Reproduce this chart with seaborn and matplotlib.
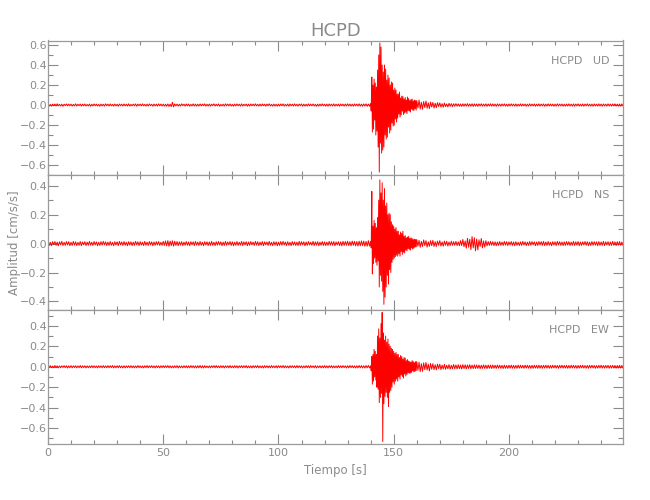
import numpy as np
import matplotlib
matplotlib.use("Agg")
import matplotlib.pyplot as plt
from matplotlib import font_manager
from matplotlib.ticker import MultipleLocator
import seaborn as sns

station = "HCPD"
components = ["UD", "NS", "EW"]

# amplitudes in thousandths of cm/s/s
# pre: 0-139.5 s every 0.5 s | burst1: 140-151.75 s every 0.25 s | burst2: 152-159.75 s every 0.25 s
# coda: 160-175.5 s every 0.5 s | tail: 176-249.5 s every 0.5 s
ud_pre = [8, -10, 6, -11, 9, -7, 10, -9, 12, -8, 7, -10, 9, -12, 8, -6, 11, -9, 10, -8,
          9, -11, 7, -9, 12, -10, 8, -7, 10, -11, 9, -8, 11, -10, 6, -9, 10, -12, 8, -9,
          11, -8, 9, -10, 7, -12, 10, -9, 8, -11, 12, -7, 9, -10, 11, -8, 7, -11, 10, -9,
          8, -12, 10, -7, 9, -10, 11, -9, 8, -10, 12, -11, 7, -9, 10, -8, 11, -12, 9, -7,
          10, -9, 12, -8, 7, -11, 9, -10, 11, -7, 8, -12, 10, -9, 9, -11, 12, -8, 10, -10,
          9, -11, 8, -12, 11, -14, 10, -16, 28, -18, 12, -9, 10, -11, 8, -10, 12, -7, 9, -11,
          11, -8, 10, -12, 7, -9, 12, -10, 9, -11, 8, -10, 11, -9, 10, -7, 12, -11, 8, -10,
          10, -11, 9, -7, 12, -10, 8, -9, 11, -12, 7, -10, 9, -11, 12, -8, 10, -9, 11, -10,
          7, -12, 10, -9, 11, -8, 9, -11, 12, -10, 8, -7, 10, -12, 9, -11, 11, -8, 10, -9,
          12, -9, 8, -11, 10, -10, 11, -7, 9, -12, 10, -8, 12, -9, 7, -11, 10, -10, 8, -12,
          9, -10, 11, -8, 12, -11, 7, -9, 10, -12, 11, -8, 9, -10, 12, -9, 8, -11, 10, -7,
          11, -12, 9, -10, 8, -11, 12, -9, 10, -8, 11, -10, 7, -12, 9, -11, 10, -9, 12, -8,
          8, -11, 10, -12, 11, -9, 9, -10, 12, -11, 8, -9, 10, -12, 11, -8, 9, -11, 10, -10,
          12, -9, 10, -11, 9, -12, 11, -8, 10, -10, 12, -11, 9, -12, 11, -10, 12, -13, 10, -12]
ud_burst1 = [15, -60, 280, -270, 200, -240, 260, -150, 220, -300, 180, -260,
             350, -420, 500, -670, 620, -380, 580, -480, 400, -450, 330, -420,
             400, -300, 360, -340, 250, -320, 300, -220, 270, -280, 200, -250,
             230, -180, 220, -210, 150, -200, 170, -140, 150, -170, 110, -130]
ud_burst2 = [110, -90, 130, -120, 70, -100, 90, -60, 85, -95, 60, -80, 75, -70, 50, -85,
             80, -55, 65, -60, 45, -70, 55, -40, 60, -50, 40, -55, 50, -35, 45, -50]
ud_coda = [45, -30, 50, -40, 28, -42, 35, -25, 40, -32, 22, -35, 30, -20, 26, -30,
           18, -26, 24, -15, 22, -20, 14, -22, 20, -16, 12, -19, 17, -13, 14, -16]
ud_tail = [13, -12, 14, -11, 12, -13, 11, -14, 13, -12, 12, -11, 14, -13, 11, -12, 13, -14, 12, -11,
           11, -13, 12, -10, 13, -12, 10, -11, 12, -13, 11, -10, 13, -12, 12, -11, 10, -13, 12, -10,
           10, -12, 11, -9, 12, -11, 9, -12, 11, -10, 12, -9, 10, -11, 11, -12, 9, -10, 12, -11,
           11, -9, 10, -12, 9, -11, 12, -10, 10, -9, 11, -12, 9, -10, 12, -11, 10, -9, 11, -12,
           9, -11, 12, -10, 11, -9, 10, -12, 9, -11, 12, -10, 10, -9, 11, -12, 9, -11, 10, -10,
           12, -10, 9, -11, 11, -12, 10, -9, 12, -11, 9, -10, 11, -12, 10, -9, 12, -10, 9, -11,
           10, -12, 11, -9, 9, -11, 12, -10, 10, -12, 11, -9, 9, -11, 12, -10, 10, -11, 11, -9,
           12, -10, 9, -11, 10, -12, 11, -9]

ns_pre = [12, -14, 9, -15, 13, -8, 14, -12, 10, -15, 12, -9, 15, -13, 8, -12, 14, -10, 13, -15,
          9, -13, 15, -11, 12, -14, 8, -12, 14, -15, 11, -9, 13, -14, 10, -12, 15, -11, 9, -13,
          14, -10, 12, -15, 9, -13, 13, -11, 15, -9, 12, -14, 10, -13, 14, -12, 8, -15, 13, -10,
          12, -14, 15, -9, 11, -13, 14, -12, 9, -15, 13, -11, 12, -14, 10, -13, 15, -9, 12, -14,
          13, -11, 9, -14, 15, -12, 10, -13, 14, -9, 12, -15, 11, -12, 13, -10, 14, -13, 9, -12,
          15, -13, 18, -16, 20, -19, 17, -14, 19, -18, 16, -13, 14, -15, 12, -11, 13, -14, 10, -12,
          14, -12, 11, -15, 13, -9, 12, -14, 15, -11, 10, -13, 14, -12, 9, -15, 13, -10, 12, -14,
          11, -13, 15, -12, 9, -14, 13, -11, 14, -10, 12, -15, 10, -13, 15, -12, 11, -9, 14, -13,
          12, -15, 10, -12, 14, -13, 9, -11, 15, -14, 12, -10, 13, -15, 11, -12, 14, -9, 10, -13,
          15, -11, 13, -14, 10, -12, 14, -15, 12, -9, 11, -13, 15, -12, 9, -14, 13, -11, 12, -15,
          10, -13, 14, -12, 15, -10, 11, -14, 13, -12, 9, -15, 14, -11, 12, -13, 10, -14, 15, -12,
          13, -9, 12, -15, 11, -13, 14, -10, 9, -12, 15, -14, 12, -11, 13, -15, 10, -12, 14, -13,
          12, -14, 10, -13, 15, -11, 13, -12, 14, -15, 11, -10, 13, -14, 12, -16, 15, -13, 14, -12,
          16, -14, 13, -15, 17, -12, 15, -16, 14, -17, 16, -15, 18, -14, 17, -19, 15, -18, 20, -17]
ns_burst1 = [15, -30, 360, -210, 120, -140, 160, -100, 140, -130, 110, -150,
             180, -120, 300, -300, 440, -220, 350, -260, 420, -330, 300, -420,
             380, -370, 260, -300, 280, -220, 200, -280, 210, -180, 200, -200,
             150, -130, 130, -110, 120, -100, 100, -90, 110, -80, 85, -87]
ns_burst2 = [85, -70, 60, -87, 80, -55, 70, -75, 85, -60, 50, -65, 55, -45, 40, -50,
             45, -35, 50, -40, 35, -45, 40, -30, 35, -38, 28, -32, 30, -25, 28, -22]
ns_coda = [28, -18, 22, -26, 15, -20, 25, -14, 20, -24, 12, -19, 20, -15, 22, -20,
           13, -20, 17, -12, 20, -17, 11, -18, 17, -12, 16, -17, 11, -14, 16, -12]
ns_tail = [13, -12, 15, -14, 12, -15, 20, -14, 28, -22, 18, -32, 36, -25, 30, -42, 48, -30, 40, -50,
           32, -44, 26, -20, 35, -30, 18, -25, 20, -16, 14, -13, 15, -12, 13, -14, 12, -15, 11, -13,
           14, -12, 10, -13, 15, -11, 13, -14, 12, -10, 14, -13, 11, -15, 13, -12, 9, -14, 12, -13,
           15, -11, 12, -14, 10, -13, 14, -12, 13, -9, 12, -15, 11, -13, 14, -10, 13, -12, 15, -14,
           11, -13, 14, -12, 9, -15, 13, -11, 12, -14, 15, -10, 13, -12, 11, -14, 12, -13, 14, -11,
           13, -14, 10, -12, 15, -13, 12, -11, 14, -15, 11, -13, 12, -10, 14, -12, 13, -15, 10, -13,
           14, -12, 13, -11, 12, -15, 14, -13, 11, -12, 15, -14, 12, -10, 13, -14, 11, -13, 15, -12,
           12, -14, 13, -11, 14, -12, 10, -13]

ew_pre = [10, -8, 11, -9, 7, -10, 12, -8, 9, -11, 8, -10, 9, -7, 11, -9, 10, -12, 8, -9,
          11, -10, 9, -8, 10, -11, 8, -9, 12, -10, 9, -8, 10, -11, 9, -10, 8, -9, 11, -10,
          10, -9, 8, -11, 10, -8, 9, -10, 11, -9, 8, -10, 11, -9, 10, -8, 12, -11, 9, -10,
          10, -9, 11, -10, 8, -12, 10, -11, 9, -8, 10, -9, 11, -10, 9, -11, 8, -10, 12, -9,
          9, -10, 8, -11, 10, -9, 12, -10, 9, -8, 11, -10, 9, -12, 10, -8, 9, -11, 10, -9,
          11, -9, 10, -8, 12, -10, 9, -11, 8, -10, 10, -9, 11, -12, 9, -10, 8, -11, 10, -9,
          10, -11, 9, -10, 12, -9, 10, -11, 9, -12, 11, -10, 12, -11, 10, -12, 11, -9, 8, -10,
          9, -11, 10, -8, 11, -10, 12, -9, 8, -10, 11, -9, 10, -12, 9, -8, 10, -11, 12, -10,
          8, -10, 11, -9, 10, -12, 9, -8, 11, -10, 10, -9, 12, -11, 8, -10, 9, -12, 11, -9,
          10, -9, 12, -11, 8, -10, 9, -12, 11, -8, 10, -10, 9, -11, 12, -9, 8, -10, 11, -12,
          11, -8, 10, -9, 12, -11, 9, -10, 8, -12, 11, -9, 10, -8, 9, -11, 12, -10, 10, -9,
          9, -12, 8, -10, 11, -9, 10, -11, 12, -8, 9, -10, 11, -12, 8, -9, 10, -11, 9, -10,
          12, -10, 9, -11, 10, -8, 11, -12, 9, -10, 8, -11, 12, -9, 10, -10, 11, -8, 9, -12,
          10, -11, 12, -9, 11, -10, 9, -12, 10, -11, 12, -10, 11, -12, 10, -13, 12, -11, 13, -12]
ew_burst1 = [10, -40, 100, -170, 120, -140, 170, -100, 150, -130, 120, -200,
             300, -220, 370, -350, 280, -300, 420, -260, 530, -730, 330, -360,
             260, -290, 300, -250, 240, -300, 270, -390, 220, -250, 200, -230,
             180, -200, 170, -150, 150, -170, 130, -140, 140, -120, 120, -140]
ew_burst2 = [120, -100, 90, -120, 110, -80, 100, -95, 75, -110, 90, -70, 85, -90, 60, -75,
             70, -60, 55, -65, 50, -60, 45, -55, 60, -40, 50, -50, 40, -45, 50, -38]
ew_coda = [50, -35, 45, -48, 30, -45, 38, -28, 42, -32, 26, -40, 32, -24, 30, -28,
           20, -30, 26, -18, 25, -28, 16, -22, 23, -25, 15, -20, 21, -23, 14, -20]
ew_tail = [22, -20, 18, -21, 20, -19, 17, -22, 21, -18, 19, -20, 18, -17, 20, -19, 16, -18, 19, -17,
           18, -16, 17, -19, 15, -17, 18, -16, 16, -18, 17, -15, 16, -17, 18, -15, 15, -16, 17, -14,
           15, -16, 14, -17, 16, -15, 13, -16, 15, -14, 16, -15, 14, -16, 13, -15, 16, -14, 15, -13,
           14, -15, 16, -13, 15, -14, 13, -16, 14, -15, 15, -13, 14, -15, 16, -14, 13, -15, 14, -13,
           15, -13, 14, -15, 13, -14, 15, -12, 14, -13, 13, -15, 14, -12, 15, -14, 13, -13, 14, -15,
           13, -14, 15, -12, 14, -13, 12, -15, 13, -14, 14, -12, 15, -13, 12, -14, 13, -15, 14, -12,
           14, -12, 13, -15, 12, -13, 14, -12, 15, -13, 12, -14, 13, -12, 14, -15, 12, -13, 14, -12,
           13, -14, 12, -13, 14, -12, 13, -14]

ylims = [(-0.70, 0.645), (-0.457, 0.473), (-0.757, 0.557)]
yticks = [[-0.6, -0.4, -0.2, 0.0, 0.2, 0.4, 0.6],
          [-0.4, -0.2, 0.0, 0.2, 0.4],
          [-0.6, -0.4, -0.2, 0.0, 0.2, 0.4]]


def build(pre, burst1, burst2, coda, tail):
    segs = [(0, 0.5, pre), (140, 0.25, burst1), (152, 0.25, burst2),
            (160, 0.5, coda), (176, 0.5, tail)]
    t = np.concatenate([t0 + dt * np.arange(len(v)) for t0, dt, v in segs])
    v = np.concatenate([v for _, _, v in segs]) / 1000.0
    return t, v


traces = [build(ud_pre, ud_burst1, ud_burst2, ud_coda, ud_tail),
          build(ns_pre, ns_burst1, ns_burst2, ns_coda, ns_tail),
          build(ew_pre, ew_burst1, ew_burst2, ew_coda, ew_tail)]

sns.set_style("ticks")
names = {f.name for f in font_manager.fontManager.ttflist}
fam = "Liberation Sans Narrow" if "Liberation Sans Narrow" in names else "DejaVu Sans"
plt.rcParams["font.family"] = [fam, "DejaVu Sans"]

gray = "#8a8a8a"
fig, axes = plt.subplots(3, 1, figsize=(6.5, 5), dpi=100, sharex=True)
fig.subplots_adjust(left=0.0738, right=0.9585, top=0.919, bottom=0.1114, hspace=0)

for ax, (t, v), comp, lim, yt in zip(axes, traces, components, ylims, yticks):
    sns.lineplot(x=t, y=v, ax=ax, color="red", linewidth=0.7,
                 estimator=None, sort=False)
    ax.set_xlim(0, 249.5)
    ax.set_ylim(*lim)
    ax.set_yticks(yt)
    ax.yaxis.set_minor_locator(MultipleLocator(0.1))
    ax.xaxis.set_major_locator(MultipleLocator(50))
    ax.xaxis.set_minor_locator(MultipleLocator(10))
    ax.set_yticklabels([f"{y:.1f}".replace("-", "\u2212") for y in yt])
    ax.tick_params(which="both", direction="in", top=True, right=True,
                   colors=gray, labelcolor=gray, labelsize=8, width=0.8)
    ax.tick_params(axis="y", which="major", length=7, pad=1)
    ax.tick_params(axis="y", which="minor", length=3.6)
    ax.tick_params(axis="x", which="major", length=7, pad=3)
    ax.tick_params(axis="x", which="minor", length=3.2)
    for s in ax.spines.values():
        s.set_color("#9a9a9a")
        s.set_linewidth(0.9)
    ax.set_ylabel("")
    ax.text(0.976, 0.85, f"{station}   {comp}", transform=ax.transAxes,
            ha="right", va="center", fontsize=8, color=gray)

axes[-1].set_xlabel("Tiempo [s]", fontsize=8.5, color=gray, labelpad=4)
fig.text(0.023, 1 - 243 / 500, "Amplitud [cm/s/s]", rotation=90,
         ha="center", va="center", fontsize=8.5, color=gray)
fig.suptitle(station, x=0.516, y=0.955, fontsize=13, color=gray)

fig.savefig("out.png", dpi=100, facecolor="white")
